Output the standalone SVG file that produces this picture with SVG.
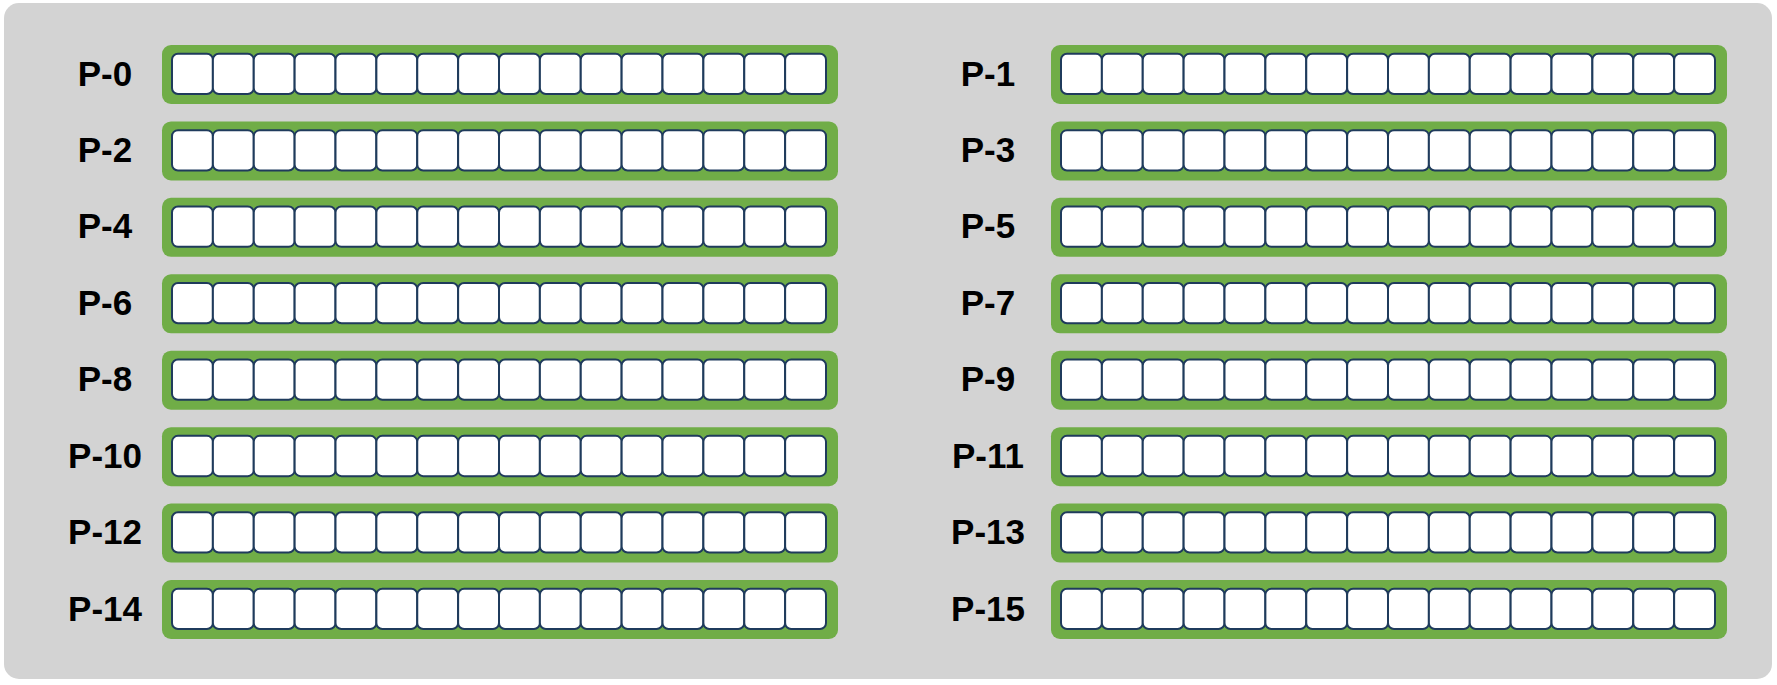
<svg xmlns="http://www.w3.org/2000/svg" xmlns:xlink="http://www.w3.org/1999/xlink" width="1777" height="685" viewBox="0 0 1777 685">
<style>
.bg{fill:#d3d3d3}
.bar{fill:#70ad47}
.cell{fill:#ffffff;stroke:#1f3b5c;stroke-width:2}
.lbl{font-family:"Liberation Sans",Arial,sans-serif;font-weight:bold;font-size:35px;fill:#000;text-anchor:middle}
</style>
<defs>
<g id="bar">
<rect class="bar" x="0" y="0" width="676" height="59" rx="9"/>
<rect class="cell" x="10" y="8.7" width="40.875" height="40.3" rx="6"/>
<rect class="cell" x="50.875" y="8.7" width="40.875" height="40.3" rx="6"/>
<rect class="cell" x="91.75" y="8.7" width="40.875" height="40.3" rx="6"/>
<rect class="cell" x="132.625" y="8.7" width="40.875" height="40.3" rx="6"/>
<rect class="cell" x="173.5" y="8.7" width="40.875" height="40.3" rx="6"/>
<rect class="cell" x="214.375" y="8.7" width="40.875" height="40.3" rx="6"/>
<rect class="cell" x="255.25" y="8.7" width="40.875" height="40.3" rx="6"/>
<rect class="cell" x="296.125" y="8.7" width="40.875" height="40.3" rx="6"/>
<rect class="cell" x="337" y="8.7" width="40.875" height="40.3" rx="6"/>
<rect class="cell" x="377.875" y="8.7" width="40.875" height="40.3" rx="6"/>
<rect class="cell" x="418.75" y="8.7" width="40.875" height="40.3" rx="6"/>
<rect class="cell" x="459.625" y="8.7" width="40.875" height="40.3" rx="6"/>
<rect class="cell" x="500.5" y="8.7" width="40.875" height="40.3" rx="6"/>
<rect class="cell" x="541.375" y="8.7" width="40.875" height="40.3" rx="6"/>
<rect class="cell" x="582.25" y="8.7" width="40.875" height="40.3" rx="6"/>
<rect class="cell" x="623.125" y="8.7" width="40.875" height="40.3" rx="6"/>
</g>
</defs>
<rect class="bg" x="4" y="3" width="1768" height="676" rx="15"/>
<g id="connectors"/>
<g id="p0"><use xlink:href="#bar" href="#bar" x="162" y="45"/><text class="lbl" x="105" y="85.5">P-0</text></g>
<g id="p1"><use xlink:href="#bar" href="#bar" x="1051" y="45"/><text class="lbl" x="988" y="85.5">P-1</text></g>
<g id="p2"><use xlink:href="#bar" href="#bar" x="162" y="121.43"/><text class="lbl" x="105" y="161.93">P-2</text></g>
<g id="p3"><use xlink:href="#bar" href="#bar" x="1051" y="121.43"/><text class="lbl" x="988" y="161.93">P-3</text></g>
<g id="p4"><use xlink:href="#bar" href="#bar" x="162" y="197.86"/><text class="lbl" x="105" y="238.36">P-4</text></g>
<g id="p5"><use xlink:href="#bar" href="#bar" x="1051" y="197.86"/><text class="lbl" x="988" y="238.36">P-5</text></g>
<g id="p6"><use xlink:href="#bar" href="#bar" x="162" y="274.29"/><text class="lbl" x="105" y="314.79">P-6</text></g>
<g id="p7"><use xlink:href="#bar" href="#bar" x="1051" y="274.29"/><text class="lbl" x="988" y="314.79">P-7</text></g>
<g id="p8"><use xlink:href="#bar" href="#bar" x="162" y="350.72"/><text class="lbl" x="105" y="391.22">P-8</text></g>
<g id="p9"><use xlink:href="#bar" href="#bar" x="1051" y="350.72"/><text class="lbl" x="988" y="391.22">P-9</text></g>
<g id="p10"><use xlink:href="#bar" href="#bar" x="162" y="427.15"/><text class="lbl" x="105" y="467.65">P-10</text></g>
<g id="p11"><use xlink:href="#bar" href="#bar" x="1051" y="427.15"/><text class="lbl" x="988" y="467.65">P-11</text></g>
<g id="p12"><use xlink:href="#bar" href="#bar" x="162" y="503.58"/><text class="lbl" x="105" y="544.08">P-12</text></g>
<g id="p13"><use xlink:href="#bar" href="#bar" x="1051" y="503.58"/><text class="lbl" x="988" y="544.08">P-13</text></g>
<g id="p14"><use xlink:href="#bar" href="#bar" x="162" y="580"/><text class="lbl" x="105" y="620.5">P-14</text></g>
<g id="p15"><use xlink:href="#bar" href="#bar" x="1051" y="580"/><text class="lbl" x="988" y="620.5">P-15</text></g>
</svg>
